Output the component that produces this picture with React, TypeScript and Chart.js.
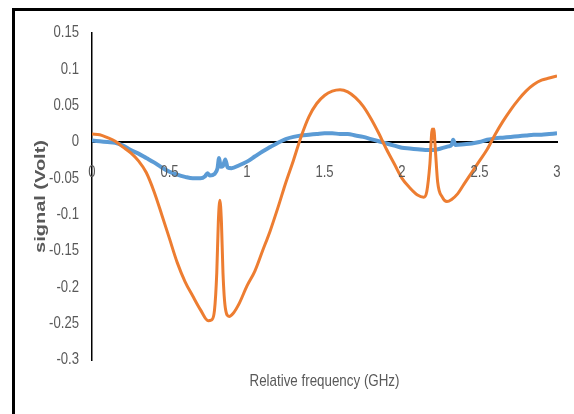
import React, { useEffect, useRef } from "react";
import { Chart, registerables } from "chart.js";

Chart.register(...registerables);

// Orange trace (relative frequency in GHz, signal in Volt)
const orangeFreq = [
  0, 0.05, 0.1, 0.15, 0.2, 0.25, 0.3, 0.35, 0.4, 0.45, 0.5, 0.55, 0.6, 0.65, 0.7, 0.75, 0.77, 0.79,
  0.805, 0.815, 0.825, 0.835, 0.845, 0.86, 0.885, 0.91, 0.95, 1.0, 1.05, 1.1, 1.15, 1.2, 1.25, 1.3,
  1.35, 1.4, 1.45, 1.5, 1.55, 1.6, 1.65, 1.7, 1.75, 1.8, 1.85, 1.9, 1.95, 2.0, 2.05, 2.1, 2.14, 2.16,
  2.18, 2.195, 2.2, 2.205, 2.215, 2.23, 2.26, 2.29, 2.32, 2.36, 2.4, 2.45, 2.5, 2.55, 2.6, 2.65, 2.7,
  2.75, 2.8, 2.85, 2.9, 2.95, 3.0,
];
const orangeSignal = [
  0.011, 0.01, 0.006, 0.001, -0.007, -0.015, -0.026, -0.042, -0.068, -0.1, -0.133, -0.166, -0.192,
  -0.212, -0.231, -0.246, -0.245, -0.232, -0.18, -0.11, -0.08, -0.11, -0.18, -0.228, -0.24, -0.236,
  -0.222, -0.198, -0.178, -0.15, -0.122, -0.09, -0.056, -0.025, 0.008, 0.035, 0.053, 0.064, 0.07,
  0.072, 0.069, 0.061, 0.049, 0.032, 0.012, -0.01, -0.03, -0.05, -0.063, -0.073, -0.076, -0.068,
  -0.03, 0.018, 0.005, 0.018, -0.01, -0.055, -0.076, -0.082, -0.079, -0.071, -0.058, -0.042, -0.026,
  -0.01, 0.01, 0.028, 0.044, 0.058, 0.07, 0.079, 0.085, 0.088, 0.091,
];

// Blue trace
const blueFreq = [
  0, 0.05, 0.1, 0.15, 0.2, 0.25, 0.3, 0.35, 0.4, 0.45, 0.5, 0.55, 0.6, 0.65, 0.7, 0.73, 0.745, 0.76,
  0.79, 0.81, 0.82, 0.83, 0.845, 0.86, 0.875, 0.9, 0.95, 1.0, 1.05, 1.1, 1.15, 1.2, 1.25, 1.3, 1.35,
  1.4, 1.45, 1.5, 1.55, 1.6, 1.65, 1.7, 1.75, 1.8, 1.85, 1.9, 1.95, 2.0, 2.05, 2.1, 2.15, 2.2, 2.25,
  2.3, 2.32, 2.33, 2.345, 2.4, 2.45, 2.5, 2.55, 2.6, 2.65, 2.7, 2.75, 2.8, 2.85, 2.9, 2.95, 3.0,
];
const blueSignal = [
  0.002, 0.001, 0.0, -0.001, -0.005, -0.011, -0.016, -0.022, -0.028, -0.035, -0.041, -0.045, -0.048,
  -0.05, -0.05, -0.047, -0.043, -0.046, -0.044, -0.036, -0.022, -0.034, -0.033, -0.024, -0.035,
  -0.036, -0.032, -0.027, -0.02, -0.013, -0.007, -0.001, 0.004, 0.007, 0.009, 0.01, 0.011, 0.012,
  0.012, 0.011, 0.011, 0.009, 0.007, 0.004, 0.001, -0.002, -0.005, -0.008, -0.009, -0.01, -0.011,
  -0.011, -0.009, -0.006, -0.004, 0.003, -0.004, -0.003, -0.002, 0.0, 0.003, 0.005, 0.006, 0.007,
  0.008, 0.009, 0.01, 0.01, 0.011, 0.012,
];

const xTitle = "Relative frequency (GHz)";
const yTitle = "signal (Volt)";
const xMin = 0;
const xMax = 3;
const xStep = 0.5;
const yMin = -0.3;
const yMax = 0.15;
const yStep = 0.05;

const toPoints = (xs: number[], ys: number[]) => xs.map((x, i) => ({ x, y: ys[i] }));
const fmt = (v: number) => String(Number(Number(v).toFixed(2)));

const TEXT_COLOR = "#595959";
const NARROW = 0.82;

const textPlugin = {
  id: "textPlugin",
  afterDraw(chart: any) {
    const ctx = chart.ctx;
    const area = chart.chartArea;
    const xs = chart.scales.x;
    const ys = chart.scales.y;
    ctx.save();
    ctx.fillStyle = TEXT_COLOR;
    ctx.textBaseline = "middle";

    // y tick labels
    ctx.font = "16px 'Liberation Sans', Arial, sans-serif";
    ctx.textAlign = "right";
    for (const t of ys.ticks) {
      const py = ys.getPixelForValue(t.value);
      ctx.save();
      ctx.translate(area.left - 13, py);
      ctx.scale(NARROW, 1);
      ctx.fillText(fmt(t.value), 0, 0);
      ctx.restore();
    }

    // x tick labels (below the zero line)
    ctx.textAlign = "center";
    const zeroY = ys.getPixelForValue(0);
    for (const t of xs.ticks) {
      const px = xs.getPixelForValue(t.value);
      ctx.save();
      ctx.translate(px, zeroY + 31);
      ctx.scale(NARROW, 1);
      ctx.fillText(fmt(t.value), 0, 0);
      ctx.restore();
    }

    // x title
    ctx.save();
    ctx.font = "17px 'Liberation Sans', Arial, sans-serif";
    ctx.textAlign = "center";
    const xw = ctx.measureText(xTitle).width;
    ctx.translate((area.left + area.right) / 2, area.bottom + 21);
    ctx.scale(150 / xw, 1);
    ctx.fillText(xTitle, 0, 0);
    ctx.restore();

    // y title
    ctx.save();
    ctx.font = "bold 15px 'Liberation Sans', Arial, sans-serif";
    ctx.textAlign = "center";
    const yw = ctx.measureText(yTitle).width;
    ctx.translate(40.5, (area.top + area.bottom) / 2);
    ctx.rotate(-Math.PI / 2);
    ctx.scale(113 / yw, 1);
    ctx.fillText(yTitle, 0, 0);
    ctx.restore();

    ctx.restore();
  },
};

export default function App() {
  const ref = useRef<HTMLCanvasElement | null>(null);

  useEffect(() => {
    if (!ref.current) return;
    const chart = new Chart(ref.current, {
      type: "line",
      data: {
        datasets: [
          {
            label: "orange",
            data: toPoints(orangeFreq, orangeSignal),
            borderColor: "#ED7D31",
            backgroundColor: "#ED7D31",
            borderWidth: 3,
            pointRadius: 0,
            cubicInterpolationMode: "monotone",
            fill: false,
          },
          {
            label: "blue",
            data: toPoints(blueFreq, blueSignal),
            borderColor: "#5B9BD5",
            backgroundColor: "#5B9BD5",
            borderWidth: 4,
            pointRadius: 0,
            cubicInterpolationMode: "monotone",
            fill: false,
          },
        ],
      },
      options: {
        animation: false,
        responsive: false,
        maintainAspectRatio: false,
        layout: { padding: { left: 0, right: 17, top: 33, bottom: 54 } },
        plugins: {
          legend: { display: false },
          tooltip: { enabled: false },
        },
        scales: {
          x: {
            type: "linear",
            position: { y: 0 } as any,
            min: xMin,
            max: xMax,
            ticks: { stepSize: xStep, display: false },
            grid: { display: false, drawTicks: false },
            border: { display: true, color: "#000000", width: 2 },
          },
          y: {
            type: "linear",
            position: "left",
            min: yMin,
            max: yMax,
            afterFit: (scale: any) => {
              scale.width = 92;
            },
            ticks: { stepSize: yStep, display: false },
            grid: { display: false, drawTicks: false },
            border: { display: true, color: "#000000", width: 1.5 },
          },
        },
      },
      plugins: [textPlugin],
    });
    return () => chart.destroy();
  }, []);

  return (
    <div
      style={{
        position: "fixed",
        left: 0,
        top: 0,
        width: 574,
        height: 414,
        overflow: "hidden",
        background: "#ffffff",
      }}
    >
      <div
        style={{
          position: "absolute",
          left: 12,
          top: 8,
          width: 700,
          height: 600,
          borderLeft: "3px solid #000",
          borderTop: "3px solid #000",
          boxSizing: "border-box",
        }}
      />
      <canvas
        ref={ref}
        width={574}
        height={414}
        style={{ position: "absolute", left: 0, top: 0, width: 574, height: 414 }}
      />
    </div>
  );
}
